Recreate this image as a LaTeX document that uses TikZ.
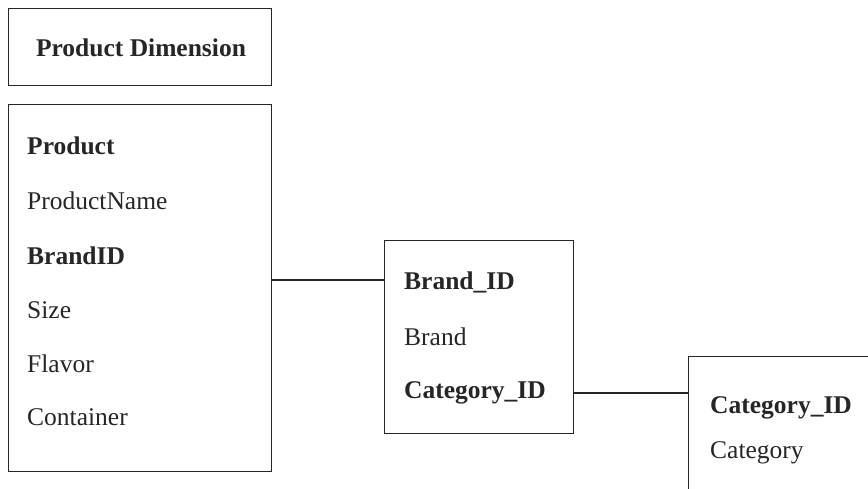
\documentclass[tikz,border=0pt]{standalone}
\usepackage{fontspec}
\setmainfont{Liberation Serif}
\begin{document}
\begin{tikzpicture}[x=1pt,y=-1pt,
  tbl/.style={draw=black!85,line width=1.1pt,inner sep=0pt,anchor=north west},
  fld/.style={anchor=base west,inner sep=0pt,font=\fontsize{25.5}{30}\selectfont,text=black!85},
  key/.style={fld,font=\fontsize{25.5}{30}\selectfont\bfseries},
  link/.style={draw=black!85,line width=1.1pt}]
\clip (0,0) rectangle (868,489);
\fill[white] (0,0) rectangle (868,489);
% title box
\node[tbl,minimum width=263pt,minimum height=77pt] (title) at (8,8) {};
\node[anchor=base,inner sep=0pt,font=\fontsize{25.5}{30}\selectfont\bfseries,text=black!85] (titletext) at (141,57) {Product Dimension};
% product table
\node[tbl,minimum width=263pt,minimum height=367pt] (prod) at (8,104) {};
\node[key] (p1) at (27,155) {Product};
\node[fld] (p2) at (27,210) {ProductName};
\node[key] (p3) at (27,265) {BrandID};
\node[fld] (p4) at (27,318) {Size};
\node[fld] (p5) at (27,372) {Flavor};
\node[fld] (p6) at (27,425) {Container};
% brand table
\node[tbl,minimum width=189pt,minimum height=193pt] (brand) at (384,240) {};
\node[key] (b1) at (404,290) {Brand\_ID};
\node[fld] (b2) at (404,345) {Brand};
\node[key] (b3) at (404,398) {Category\_ID};
% category table
\node[tbl,minimum width=200pt,minimum height=160pt] (cat) at (688,356) {};
\node[key] (c1) at (710,413) {Category\_ID};
\node[fld] (c2) at (710,458) {Category};
% connectors
\coordinate (l1) at (0,280);
\coordinate (l2) at (0,393);
\draw[link] (prod.east |- l1) -- (brand.west |- l1);
\draw[link] (brand.east |- l2) -- (cat.west |- l2);
\end{tikzpicture}
\end{document}
